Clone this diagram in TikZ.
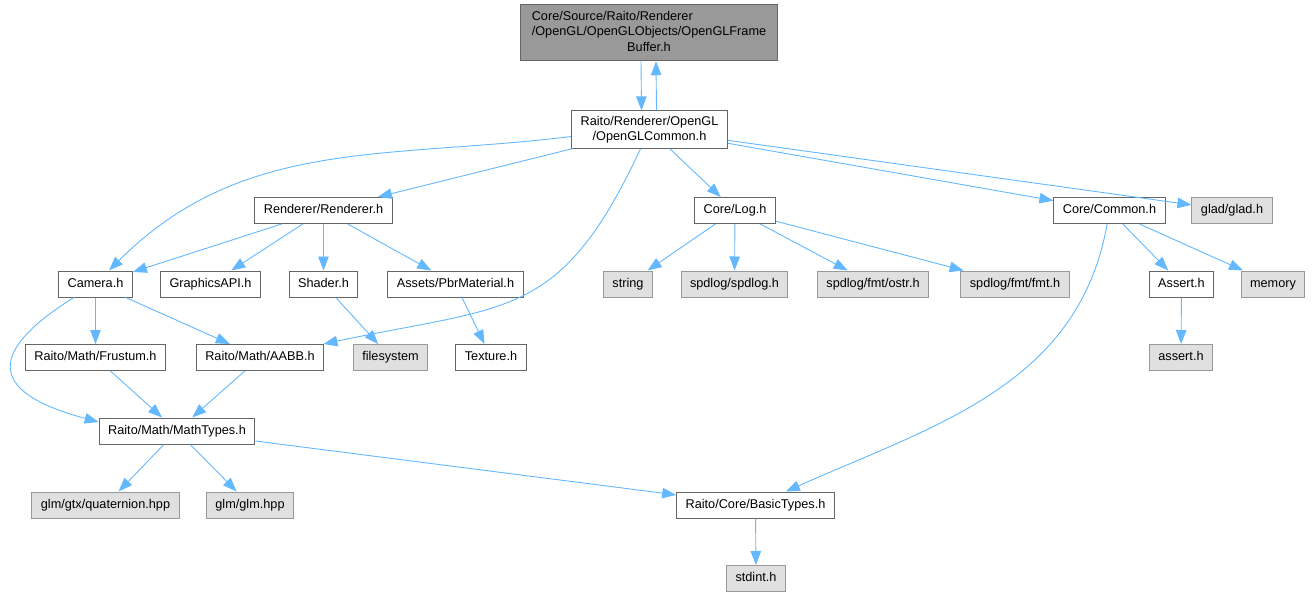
\documentclass[tikz,border=0pt]{standalone}
\usepackage{fontspec}
\setmainfont{Liberation Sans}
\usepackage{tikz}
\usetikzlibrary{
	arrows.meta,
	positioning,
	}
\definecolor{edgeblue}{HTML}{63B8FF}
\definecolor{boxgrey}{HTML}{666666}
\definecolor{extgrey}{HTML}{999999}
\definecolor{extfill}{HTML}{E0E0E0}
\definecolor{rootfill}{HTML}{999999}
\tikzset{
	box/.style={draw=boxgrey, fill=white, line width=1pt, inner xsep=9pt, inner ysep=5pt, font=\fontsize{12.7}{15.5}\selectfont},
	file/.style={box, minimum height=26pt, text height=9.3pt, text depth=2.8pt},
	sysfile/.style={file, draw=extgrey, fill=extfill},
	rootfile/.style={box, fill=rootfill},
	dep/.style={-{Triangle[length=14pt,width=10.5pt]}, draw=edgeblue, line width=0.9pt},
	}

\begin{document}
\begin{tikzpicture}[x=1pt, y=1pt]
			\useasboundingbox (0,0) rectangle (1312,-597);
			\node[rootfile, inner xsep=11pt] (root) at (649,-32.5) {\begin{tabular}{@{}l@{}}Core/Source/Raito/Renderer\\/OpenGL/OpenGLObjects/OpenGLFrame\\\multicolumn{1}{@{}c@{}}{Buffer.h}\end{tabular}};
			\node[box, align=center] (glcommon) at (649.5,-129.5) {Raito/Renderer/OpenGL\\/OpenGLCommon.h};
			\node[file] (renderer) at (323.5,-210.5) {Renderer/Renderer.h};
			\node[file] (log) at (735,-210.5) {Core/Log.h};
			\node[file] (common) at (1109.5,-210.5) {Core/Common.h};
			\node[sysfile] (glad) at (1232,-210.5) {glad/glad.h};
			\node[file] (camera) at (95.5,-284) {Camera.h};
			\node[file] (gfxapi) at (210.5,-284) {GraphicsAPI.h};
			\node[file] (shader) at (323.5,-284) {Shader.h};
			\node[file] (pbrmat) at (455.5,-284) {Assets/PbrMaterial.h};
			\node[sysfile] (str) at (628,-284) {string};
			\node[sysfile] (spdlog) at (734.5,-284) {spdlog/spdlog.h};
			\node[sysfile] (ostr) at (873,-284) {spdlog/fmt/ostr.h};
			\node[sysfile] (fmt) at (1015,-284) {spdlog/fmt/fmt.h};
			\node[file] (assert) at (1181.5,-284) {Assert.h};
			\node[sysfile] (memory) at (1273,-284) {memory};
			\node[file] (frustum) at (95.5,-357.5) {Raito/Math/Frustum.h};
			\node[file] (aabb) at (260,-357.5) {Raito/Math/AABB.h};
			\node[sysfile] (filesystem) at (390.5,-357.5) {filesystem};
			\node[file] (texture) at (491,-357.5) {Texture.h};
			\node[sysfile] (cassert) at (1181,-357.5) {assert.h};
			\node[file] (mathtypes) at (177,-431) {Raito/Math/MathTypes.h};
			\node[sysfile] (quat) at (105.5,-505) {glm/gtx/quaternion.hpp};
			\node[sysfile] (glm) at (250,-505) {glm/glm.hpp};
			\node[file] (basictypes) at (755.5,-505) {Raito/Core/BasicTypes.h};
			\node[sysfile] (stdint) at (756,-578.5) {stdint.h};
			\draw[dep] ([xshift=-8pt]root.south) -- ([xshift=-8pt]glcommon.north);
			\draw[dep] ([xshift=7pt]glcommon.north) -- ([xshift=7pt]root.south);
			\draw[dep] ([yshift=-7pt]glcommon.west) to[out=187, in=45] (camera);
			\draw[dep] (glcommon) -- (renderer);
			\draw[dep] (glcommon) to[out=-115, in=12, looseness=1.3] (aabb);
			\draw[dep] (glcommon) -- (log);
			\draw[dep] (glcommon) -- (common);
			\draw[dep] (glcommon) -- (glad);
			\draw[dep] (renderer) -- (camera);
			\draw[dep] (renderer) -- (gfxapi);
			\draw[dep] (renderer) -- (shader);
			\draw[dep] (renderer) -- (pbrmat);
			\draw[dep] (log) -- (str);
			\draw[dep] (log) -- (spdlog);
			\draw[dep] (log) -- (ostr);
			\draw[dep] (log) -- (fmt);
			\draw[dep] (common) to[out=-100, in=24] (basictypes);
			\draw[dep] (common) -- (assert);
			\draw[dep] (common) -- (memory);
			\draw[dep] (camera) -- (frustum);
			\draw[dep] (camera) -- (aabb);
			\draw[dep] (camera) to[out=212, in=165, looseness=2.2] ([yshift=9pt]mathtypes.west);
			\draw[dep] (shader) -- (filesystem);
			\draw[dep] (pbrmat) -- (texture);
			\draw[dep] (assert) -- (cassert);
			\draw[dep] (frustum) -- (mathtypes);
			\draw[dep] (aabb) -- (mathtypes);
			\draw[dep] (mathtypes) -- (quat);
			\draw[dep] (mathtypes) -- (glm);
			\draw[dep] (mathtypes) -- (basictypes);
			\draw[dep] (basictypes) -- (stdint);
		\end{tikzpicture}
\end{document}
